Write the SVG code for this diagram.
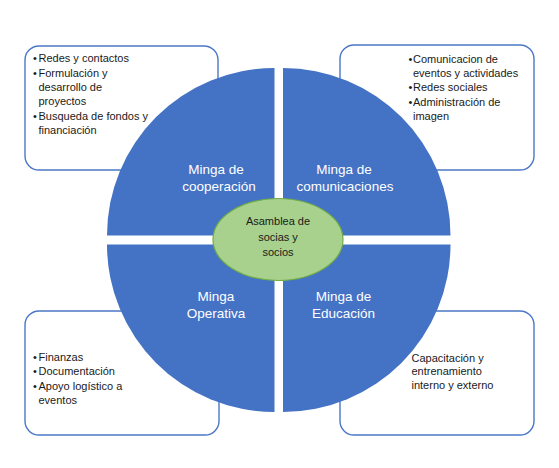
<svg xmlns="http://www.w3.org/2000/svg" width="559" height="468" viewBox="0 0 559 468">
<style>
.box{fill:#ffffff;stroke:#4a78c6;stroke-width:1.4}
.quad{fill:#4472c4}
.ql{font-family:"Liberation Sans",Arial,sans-serif;font-size:13.5px;fill:#ffffff;text-anchor:middle}
.bt{font-family:"Liberation Sans",Arial,sans-serif;font-size:11px;fill:#1a1a1a}
.ct{font-family:"Liberation Sans",Arial,sans-serif;font-size:11px;fill:#1a1a1a;text-anchor:middle}
</style>
<rect width="559" height="468" fill="#ffffff"/>
<g id="box-cooperacion">
<rect class="box" x="25" y="46" width="193" height="124" rx="14"/>
<text class="bt"><tspan x="33" y="62">•</tspan><tspan x="38.5" y="62">Redes y contactos</tspan><tspan x="33" y="76.5">•</tspan><tspan x="38.5" y="76.5">Formulación y</tspan><tspan x="38.5" y="90.8">desarrollo de</tspan><tspan x="38.5" y="105">proyectos</tspan><tspan x="33" y="119.5">•</tspan><tspan x="38.5" y="119.5">Busqueda de fondos y</tspan><tspan x="38.5" y="133.8">financiación</tspan></text>
</g>
<g id="box-comunicaciones">
<rect class="box" x="340" y="45" width="194" height="125" rx="14"/>
<text class="bt"><tspan x="408.5" y="62.5">•</tspan><tspan x="413" y="62.5">Comunicacion de</tspan><tspan x="413" y="76.8">eventos y actividades</tspan><tspan x="408.5" y="91.3">•</tspan><tspan x="413" y="91.3">Redes sociales</tspan><tspan x="408.5" y="105.8">•</tspan><tspan x="413" y="105.8">Administración de</tspan><tspan x="413" y="120">imagen</tspan></text>
</g>
<g id="box-operativa">
<rect class="box" x="25" y="311" width="194" height="124" rx="14"/>
<text class="bt"><tspan x="33" y="361">•</tspan><tspan x="38.5" y="361">Finanzas</tspan><tspan x="33" y="375.3">•</tspan><tspan x="38.5" y="375.3">Documentación</tspan><tspan x="33" y="389.8">•</tspan><tspan x="38.5" y="389.8">Apoyo logístico a</tspan><tspan x="38.5" y="404">eventos</tspan></text>
</g>
<g id="box-educacion">
<rect class="box" x="340" y="311" width="194" height="124" rx="14"/>
<text class="bt"><tspan x="411.5" y="361.5">Capacitación y</tspan><tspan x="411.5" y="375">entrenamiento</tspan><tspan x="411.5" y="388.5">interno y externo</tspan></text>
</g>
<g id="minga-cooperacion">
<path class="quad" d="M274.5,235.5 L107,235.5 A167.5,167.5 0 0 1 274.5,68 Z"/>
<text class="ql"><tspan x="216" y="173.5">Minga de</tspan><tspan x="219" y="191">cooperación</tspan></text>
</g>
<g id="minga-comunicaciones">
<path class="quad" d="M283,235.5 L283,68 A167.5,167.5 0 0 1 450.5,235.5 Z"/>
<text class="ql"><tspan x="344" y="173.5">Minga de</tspan><tspan x="345" y="191">comunicaciones</tspan></text>
</g>
<g id="minga-operativa">
<path class="quad" d="M274.5,244.5 L274.5,412 A167.5,167.5 0 0 1 107,244.5 Z"/>
<text class="ql"><tspan x="216" y="301">Minga</tspan><tspan x="216" y="318">Operativa</tspan></text>
</g>
<g id="minga-educacion">
<path class="quad" d="M283,244.5 L450.5,244.5 A167.5,167.5 0 0 1 283,412 Z"/>
<text class="ql"><tspan x="343.5" y="301">Minga de</tspan><tspan x="343.5" y="318">Educación</tspan></text>
</g>
<g id="asamblea">
<ellipse cx="278" cy="239.5" rx="65" ry="41" fill="#a9d18e" stroke="#70ad47" stroke-width="1.2"/>
<text class="ct"><tspan x="278" y="224.5">Asamblea de</tspan><tspan x="278" y="240.5">socias y</tspan><tspan x="278" y="256">socios</tspan></text>
</g>
<g id="connectors"/>
</svg>
